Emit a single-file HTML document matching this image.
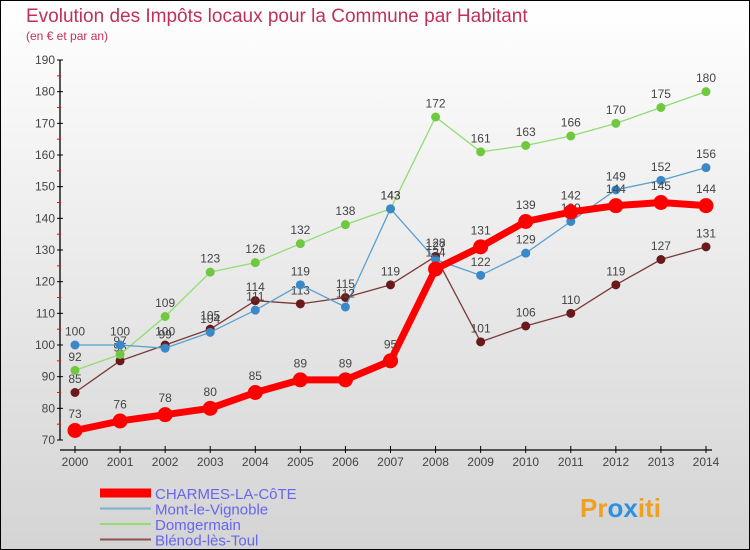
<!DOCTYPE html>
<html><head><meta charset="utf-8"><style>
body{margin:0}
#c{width:750px;height:550px;position:relative;box-sizing:border-box;border:1px solid #000;background:linear-gradient(#fff,#d4d4d4);font-family:"Liberation Sans",sans-serif;overflow:hidden}
</style></head><body>
<div id="c">
<svg id="s" width="750" height="550" style="position:absolute;left:-1px;top:-1px" font-family="Liberation Sans, sans-serif">
<text x="26" y="22" font-size="19" fill="#c0305a">Evolution des Impôts locaux pour la Commune par Habitant</text>
<text x="26" y="40" font-size="12" fill="#c0305a">(en € et par an)</text>
<g id="ax"></g><g id="series"></g><g id="legend"></g>
<text x="580" y="517" font-size="26" font-weight="bold" fill="#f0a020">Pr<tspan fill="#3090e0">o</tspan><tspan fill="#3090e0">x</tspan>iti</text>
</svg>
</div>
<script>
const years=[2000,2001,2002,2003,2004,2005,2006,2007,2008,2009,2010,2011,2012,2013,2014];
const yTicks=[70,80,90,100,110,120,130,140,150,160,170,180,190];
const charmes=[73,76,78,80,85,89,89,95,124,131,139,142,144,145,144];
const mont=[100,100,99,104,111,119,112,143,127,122,129,139,149,152,156];
const domg=[92,97,109,123,126,132,138,143,172,161,163,166,170,175,180];
const blenod=[85,95,100,105,114,113,115,119,128,101,106,110,119,127,131];
const names=["CHARMES-LA-CôTE","Mont-le-Vignoble","Domgermain","Blénod-lès-Toul"];
const NS="http://www.w3.org/2000/svg";
const X=i=>75+i*(706-75)/14;
const Y=v=>440-(v-70)*(380/120);
function mk(t,a,p){const e=document.createElementNS(NS,t);for(const k in a)e.setAttribute(k,a[k]);(p||ax).appendChild(e);return e;}
const ax=document.getElementById('ax');
const sg=document.getElementById('series');
const lg=document.getElementById('legend');
mk('line',{x1:60,y1:60,x2:60,y2:440,stroke:'#000','stroke-width':1.3});
mk('line',{x1:60,y1:450,x2:712,y2:450,stroke:'#000','stroke-width':1.3});
yTicks.forEach(v=>{
 mk('line',{x1:57,y1:Y(v),x2:63,y2:Y(v),stroke:'#000'});
 if(v<190)mk('line',{x1:57,y1:Y(v+5),x2:61,y2:Y(v+5),stroke:'#f00'});
 const t=mk('text',{x:55,y:Y(v)+4,'text-anchor':'end','font-size':12,fill:'#444'});
 t.textContent=v;
 
 
});
years.forEach((y,i)=>{
 mk('line',{x1:X(i),y1:446,x2:X(i),y2:453,stroke:'#000'});
 const t=mk('text',{x:X(i),y:466,'text-anchor':'middle','font-size':12,fill:'#444'});
 t.textContent=y;
 
 
});
function series(data,col,dot,w,r,name){
 const g=mk('g',{},sg);
 
 
 mk('polyline',{points:data.map((v,i)=>X(i)+','+Y(v)).join(' '),fill:'none',stroke:col,'stroke-width':w,'stroke-linejoin':'round'},g);
 data.forEach((v,i)=>{
  const c=mk('circle',{cx:X(i),cy:Y(v),r:r,fill:dot},g);
  
  
  const t=mk('text',{x:X(i),y:Y(v)-r-5,'text-anchor':'middle','font-size':12,fill:'#444'},g);
  t.textContent=v;
  
  
 });
}
series(blenod,'#7a3a3a','#6a1a1a',1.3,4.5,'blenod-series');
series(domg,'#90dd70','#70c840',1.3,4.5,'domgermain-series');
series(mont,'#5aa0d0','#3a88c8',1.3,4.5,'mont-series');
series(charmes,'#f00','#f00',7,7.5,'charmes-series');
const lc=['#f00','#7ab0d0','#90dd70','#905050'],lw=[9,2,2,2];
names.forEach((n,i)=>{
 const y=493+i*15.5;
 const l=mk('line',{x1:100,y1:y,x2:151,y2:y,stroke:lc[i],'stroke-width':lw[i]},lg);
 
 
 const t=mk('text',{x:155,y:y+6,'font-size':15,fill:'#6666ee'},lg);
 t.textContent=n;
 
 
});
</script>
</body></html>
